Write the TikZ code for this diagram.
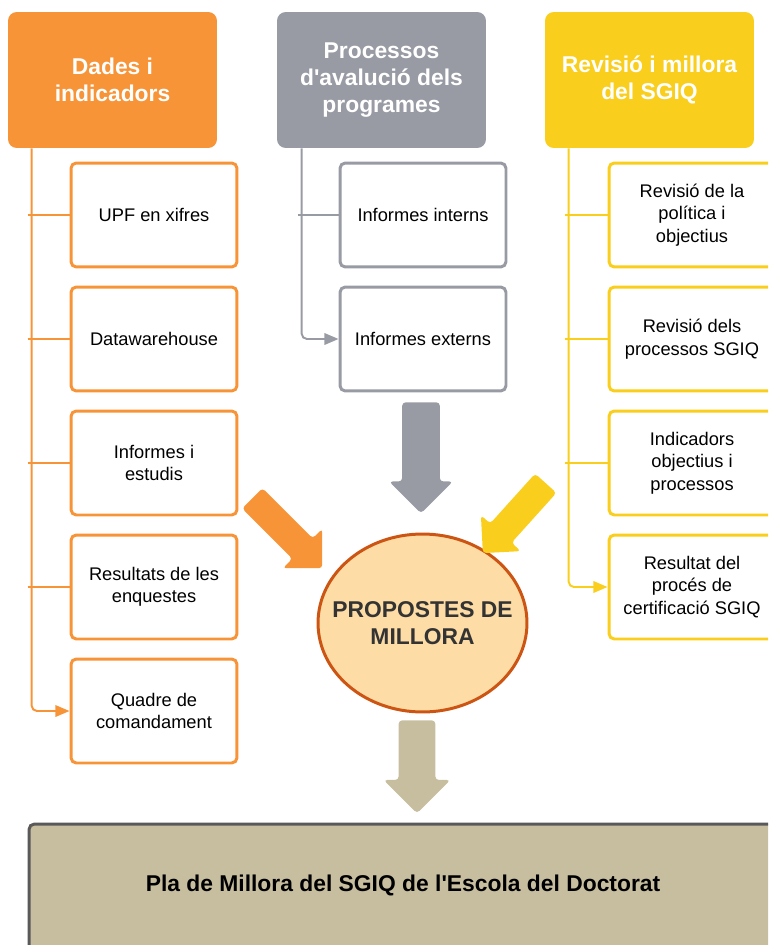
\documentclass[tikz,border=0pt]{standalone}
\usepackage{fontspec}
\setmainfont{Liberation Sans}
\usetikzlibrary{shapes.geometric, shapes.arrows, arrows.meta}
\definecolor{baseorange}{RGB}{248,148,56}
\definecolor{basegrey}{RGB}{152,155,164}
\definecolor{baseyellow}{RGB}{249,206,28}
\definecolor{basetan}{RGB}{199,190,160}
\definecolor{basepeach}{RGB}{253,220,166}
\definecolor{baserust}{RGB}{204,85,20}
\definecolor{basedark}{RGB}{51,51,51}

\begin{document}
\begin{tikzpicture}[x=0.02cm, y=-0.02cm, font=\fontsize{10.4}{12.8}\selectfont]
  \tikzset{
    head_box/.style args={#1}{
      rectangle, rounded corners=5pt, fill=#1, draw=none, minimum width=4.18cm, minimum height=2.72cm,
      text=white, align=center, font=\fontsize{13}{15.3}\selectfont\bfseries
    },
    item_box/.style args={#1}{
      rectangle, rounded corners=3pt, draw=#1, fill=white, line width=1.7pt, minimum width=3.32cm, minimum height=2.08cm,
      align=center, inner sep=0pt
    },
    big_arrow/.style args={#1}{
      single arrow, fill=#1, draw=none, rounded corners=2pt, single arrow tip angle=90, inner xsep=0pt, anchor=tail
    },
    tick_line/.style={line width=1.1pt},
    tick_arrow/.style={-{Triangle[length=8pt, width=6.5pt]}, line width=1.1pt, rounded corners=3pt}
  }

\clip (0,0) rectangle (768,945);

\node[head_box=baseorange] (head-A) at (112.5,80) {Dades i\\indicadors};
\node[head_box=basegrey] (head-B) at (381.5,80) {Processos\\d\textquotesingle avalució dels\\programes};
\node[head_box=baseyellow] (head-C) at (649.5,80) {Revisió i millora\\del SGIQ};

\foreach \txt [count=\i] in {UPF en xifres, Datawarehouse, Informes i\\estudis, Resultats de les\\enquestes, Quadre de\\comandament} {
  \node[item_box=baseorange] (orange-\i) at (154,91+124*\i) {\txt};
}
\foreach \txt [count=\i] in {Informes interns, Informes externs} {
  \node[item_box=basegrey] (grey-\i) at (423,91+124*\i) {\txt};
}
\foreach \txt [count=\i] in {Revisió de la\\política i\\objectius, Revisió dels\\processos SGIQ, Indicadors\\objectius i\\processos, Resultat del\\procés de\\certificació SGIQ} {
  \node[item_box=baseyellow] (yellow-\i) at (692,91+124*\i) {\txt};
}

% trunks under the headers
\coordinate (trunk-A) at ([xshift=0.48cm]head-A.south west);
\coordinate (trunk-B) at ([xshift=0.5cm]head-B.south west);
\coordinate (trunk-C) at ([xshift=0.48cm]head-C.south west);

\foreach \i in {1,...,4} {
  \draw[tick_line, baseorange] ([xshift=-0.08cm]trunk-A |- orange-\i.west) -- (orange-\i.west);
}
\draw[tick_arrow, baseorange] (trunk-A) |- (orange-5.west);

\draw[tick_line, basegrey] ([xshift=-0.08cm]trunk-B |- grey-1.west) -- (grey-1.west);
\draw[tick_arrow, basegrey] (trunk-B) |- (grey-2.west);

\foreach \i in {1,...,3} {
  \draw[tick_line, baseyellow] ([xshift=-0.08cm]trunk-C |- yellow-\i.west) -- (yellow-\i.west);
}
\draw[tick_arrow, baseyellow] (trunk-C) |- (yellow-4.west);

\node[ellipse, draw=baserust, fill=basepeach, line width=1.7pt, minimum width=4.18cm, minimum height=3.56cm, inner sep=0pt,
  label={[align=center, text=basedark, font=\fontsize{13}{15.3}\selectfont\bfseries]center:PROPOSTES DE\\MILLORA}] (proposals) at (422.5,623) {};

% big arrows into the proposals
\node[big_arrow=basegrey, minimum height=2.22cm, minimum width=1.26cm, inner ysep=0.37cm, single arrow head extend=0.26cm, rotate=-90] (into-B) at (421,402) {};
\node[big_arrow=baseorange, minimum height=1.98cm, minimum width=1.1cm, inner ysep=0.28cm, single arrow head extend=0.27cm, rotate=-45] (into-A) at (252,498) {};
\node[big_arrow=baseyellow, minimum height=1.88cm, minimum width=1.04cm, inner ysep=0.28cm, single arrow head extend=0.25cm, rotate=-132] (into-C) at (546,483) {};
\node[big_arrow=basetan, minimum height=1.86cm, minimum width=1.32cm, inner ysep=0.36cm, single arrow head extend=0.3cm, rotate=-90] (into-plan) at (417,720) {};

\node[rectangle, rounded corners=3pt, draw=black!65, fill=basetan, line width=1.7pt, minimum width=15.64cm, minimum height=3.04cm] (plan) at (420,900) {};
\node[font=\fontsize{13}{15.3}\selectfont\bfseries] (plan-text) at (403,885) {Pla de Millora del SGIQ de l\textquotesingle Escola del Doctorat};

\end{tikzpicture}
\end{document}
